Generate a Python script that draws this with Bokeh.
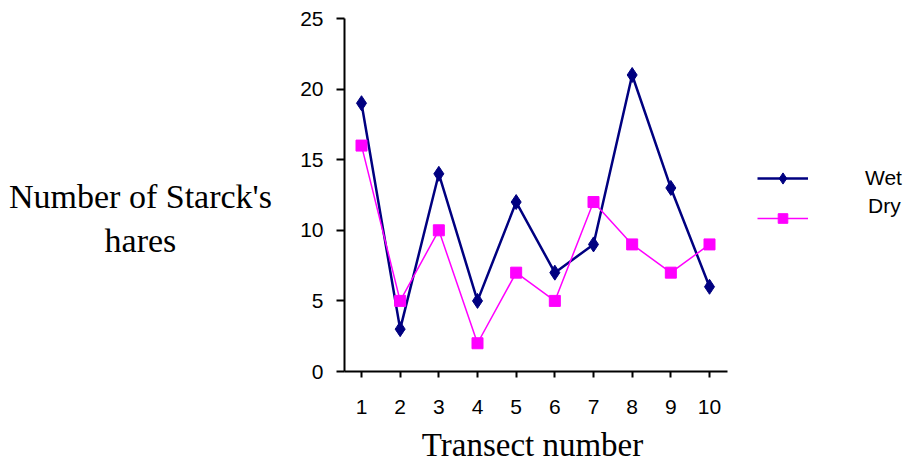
from bokeh.plotting import figure
from bokeh.models import Range1d, FixedTicker, Label, Legend, LegendItem
from bokeh.embed import file_html
from bokeh.resources import INLINE

transects = [1, 2, 3, 4, 5, 6, 7, 8, 9, 10]
wet = [19, 3, 14, 5, 12, 7, 9, 21, 13, 6]
dry = [16, 5, 10, 2, 7, 5, 12, 9, 7, 9]
y_ticks = [0, 5, 10, 15, 20, 25]

W, H = 915, 465
# pixel geometry of the plotting area (layout only)
px_x1, px_x10 = 361.0, 709.0
px_y0, px_y25 = 371.0, 18.0
ux = (px_x10 - px_x1) / 9.0
uy = (px_y0 - px_y25) / 25.0

p = figure(width=W, height=H, output_backend="svg", toolbar_location=None,
           x_range=Range1d(1 - px_x1 / ux, 1 + (W - px_x1) / ux),
           y_range=Range1d(-(H - px_y0) / uy, 25 + px_y25 / uy),
           min_border=0)
p.outline_line_color = None
p.xgrid.visible = False
p.ygrid.visible = False

wl = p.line(transects, wet, line_color="#000080", line_width=2.5)
ws = p.scatter(transects, wet, marker="diamond", size=15, fill_color="#000080", line_color="#000080")
dl = p.line(transects, dry, line_color="#FF00FF", line_width=1.5)
ds = p.scatter(transects, dry, marker="square", size=11, fill_color="#FF00FF", line_color="#FF00FF")

for ax in (p.xaxis, p.yaxis):
    ax.axis_line_width = 2
    ax.axis_line_color = "black"
    ax.major_tick_line_width = 2
    ax.major_tick_line_color = "black"
    ax.major_tick_in = 0
    ax.minor_tick_line_color = None
    ax.major_label_text_font = "Liberation Sans"
    ax.major_label_text_font_size = "21px"
    ax.major_label_text_color = "black"

x_left = 1 - (px_x1 - 344.0) / ux
x_right = 1 + (727.0 - px_x1) / ux
p.xaxis.fixed_location = 0
p.xaxis.bounds = (x_left, x_right)
p.xaxis.ticker = FixedTicker(ticks=transects)
p.xaxis.major_tick_out = 6
p.xaxis.major_label_standoff = 22

p.yaxis.fixed_location = x_left
p.yaxis.bounds = (0, 25)
p.yaxis.ticker = FixedTicker(ticks=y_ticks)
p.yaxis.major_tick_out = 8
p.yaxis.major_label_standoff = 13

ylab = Label(x=140, y=H - 218, x_units="screen", y_units="screen",
             text="Number of Starck's\nhares", text_align="center", text_baseline="middle",
             text_font="Liberation Serif", text_font_size="34px", text_color="black",
             text_line_height=1.2)
xlab = Label(x=532, y=H - 444, x_units="screen", y_units="screen",
             text="Transect number", text_align="center", text_baseline="middle",
             text_font="Liberation Serif", text_font_size="33px", text_color="black")
p.add_layout(ylab)
p.add_layout(xlab)

leg_w = Legend(items=[LegendItem(label="Wet", renderers=[wl, ws])], location=(757, H - 192),
               glyph_width=51, glyph_height=28, label_height=20, label_standoff=57,
               padding=0, margin=0, border_line_color=None, background_fill_alpha=0,
               label_text_font="Liberation Sans", label_text_font_size="21px", label_text_color="black")
leg_d = Legend(items=[LegendItem(label="Dry\n ", renderers=[dl, ds])], location=(757, H - 242),
               glyph_width=51, glyph_height=24, label_height=20, label_standoff=60,
               padding=0, margin=0, border_line_color=None, background_fill_alpha=0,
               label_text_font="Liberation Sans", label_text_font_size="21px", label_text_color="black",
               label_text_line_height=1.2)
p.add_layout(leg_w)
p.add_layout(leg_d)

open("out.html", "w").write(file_html(p, INLINE))
